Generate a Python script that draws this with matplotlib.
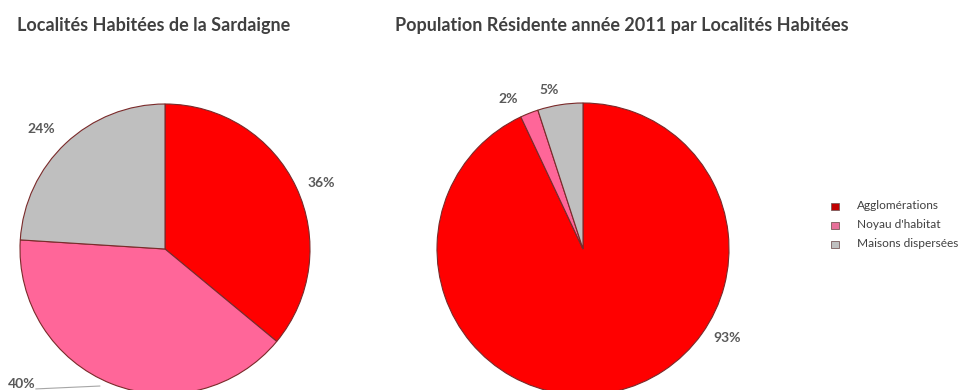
import matplotlib.pyplot as plt

# data
categories = ["Agglomérations", "Noyau d'habitat", "Maisons dispersées"]
localites_pct = [36, 40, 24]
population_pct = [93, 2, 5]
titles = ["Localités Habitées de la Sardaigne",
          "Population Résidente année 2011 par Localités Habitées"]

colors = ["#FF0000", "#FF6699", "#BFBFBF"]
legend_colors = ["#C00000", "#E8709A", "#BFBFBF"]

plt.rcParams['font.family'] = ['Lato', 'DejaVu Sans']

W, H = 967, 390
fig = plt.figure(figsize=(W / 100, H / 100), dpi=100)


def pie_axes(cx, cy, r):
    # place axes in pixel coords so the pie (radius 1) gets radius r px
    ax = fig.add_axes([(cx - r) / W, (H - cy - r) / H, 2 * r / W, 2 * r / H])
    ax.set_xlim(-1, 1)
    ax.set_ylim(-1, 1)
    ax.set_aspect('equal')
    ax.axis('off')
    return ax


ax1 = pie_axes(165, 249, 145)
ax1.pie(localites_pct, colors=colors, startangle=90, counterclock=False,
        wedgeprops=dict(edgecolor="#7a2a2a", linewidth=0.8), radius=1)
ax1.set_xlim(-1, 1)
ax1.set_ylim(-1, 1)

ax2 = pie_axes(583, 249, 146)
ax2.pie(population_pct, colors=colors, startangle=90, counterclock=False,
        wedgeprops=dict(edgecolor="#7a2a2a", linewidth=0.8), radius=1)
ax2.set_xlim(-1, 1)
ax2.set_ylim(-1, 1)

lab = dict(fontsize=10, color="#595959", fontweight="bold", ha="center", va="center")
for ax, pcts, pos in [
    (ax1, localites_pct, [(1.075, 0.455), (-0.99, -0.93), (-0.855, 0.83)]),
    (ax2, population_pct, [(0.99, -0.61), (-0.51, 1.03), (-0.23, 1.09)]),
]:
    for p, (x, y) in zip(pcts, pos):
        ax.text(x, y, f"{p}%", clip_on=False, **lab)

# leader line for the 40% label
ax1.plot([-0.89, -0.45], [-0.965, -0.945], color="#A6A6A6", lw=0.8, clip_on=False)

# titles
fig.text(17 / W, 1 - 25 / H, titles[0], fontsize=13, fontweight="bold",
         color="#404040", va="center", ha="left")
fig.text(395 / W, 1 - 25 / H, titles[1], fontsize=13, fontweight="bold",
         color="#404040", va="center", ha="left")

# legend
for i, (name, c) in enumerate(zip(categories, legend_colors)):
    y = 1 - (206.5 + i * 19) / H
    fig.patches.append(plt.Rectangle((831 / W, y - 3.5 / H), 8 / W, 7 / H,
                                     transform=fig.transFigure, facecolor=c,
                                     edgecolor="#7a5a5a", linewidth=0.6))
    fig.text(857 / W, y + 1 / H, name, fontsize=8.6, color="#404040",
             va="center", ha="left")

fig.savefig("out.png", dpi=100)
